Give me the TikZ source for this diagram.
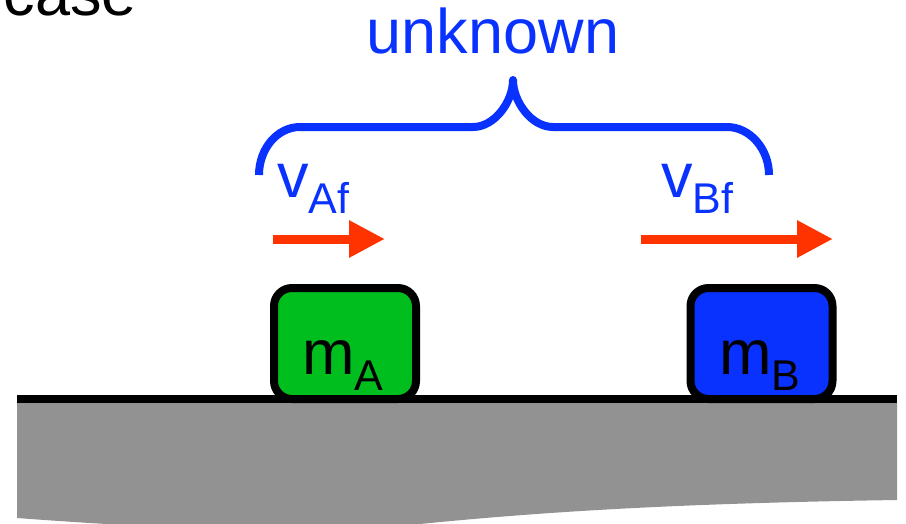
\documentclass[tikz,border=0pt]{standalone}
\usepackage{fontspec}
\setmainfont{Liberation Sans}
\usetikzlibrary{arrows.meta}
\definecolor{groundgray}{RGB}{146,146,146}
\definecolor{massgreen}{RGB}{0,190,30}
\definecolor{massblue}{RGB}{10,50,255}
\definecolor{velred}{RGB}{255,51,0}
\newcommand{\lowsub}[1]{\raisebox{-16pt}{\fontsize{43}{43}\selectfont #1}}
\tikzset{
  big/.style={inner sep=0pt,font=\fontsize{63}{63}\selectfont},
  mass/.style={draw=black,line width=8pt,rounded corners=18pt,minimum width=142pt,minimum height=111pt,inner sep=0pt},
  vel/.style={velred,line width=9pt,-{Triangle[length=36pt,width=35pt]}}
}
\begin{document}
\begin{tikzpicture}[line join=round,x=1pt,y=-1pt]
\useasboundingbox (0,0) rectangle (906,523);
% ground
\fill[groundgray] (17,403) -- (897,403) -- (897,500) .. controls (700,503) and (560,510) .. (420,524)
  .. controls (300,535) and (150,528) .. (17,518) -- cycle;
\draw[line width=8pt] (17,399) -- (897,399);
% masses
\node[mass,fill=massgreen] (boxA) at (345,343.5) {};
\node[mass,fill=massblue] (boxB) at (761.5,343.5) {};
\node[big,anchor=base west] (labA) at (302,374) {m\lowsub{A}};
\node[big,anchor=base west] (labB) at (719,374) {m\lowsub{B}};
% velocities
\coordinate (aTail) at (273,239);
\coordinate (aTip) at (385,239);
\coordinate (bTail) at (641,239);
\coordinate (bTip) at (833,239);
\draw[vel] (aTail) -- (aTip);
\draw[vel] (bTail) -- (bTip);
\node[big,anchor=base west,massblue] (vA) at (277,197) {v\lowsub{Af}};
\node[big,anchor=base west,massblue] (vB) at (661,197) {v\lowsub{Bf}};
% brace
\draw[massblue,line width=8pt] (259,175) .. controls (259,149) and (277,127) .. (300,127) -- (473,127)
  .. controls (495,127) and (513,101) .. (513,80) .. controls (513,101) and (531,127) .. (553,127)
  -- (727,127) .. controls (750,127) and (769,149) .. (769,175);
\node[big,anchor=base,massblue] (unk) at (493,53) {unknown};
\node[big,anchor=base east] (title) at (137,15) {case};
\end{tikzpicture}
\end{document}
